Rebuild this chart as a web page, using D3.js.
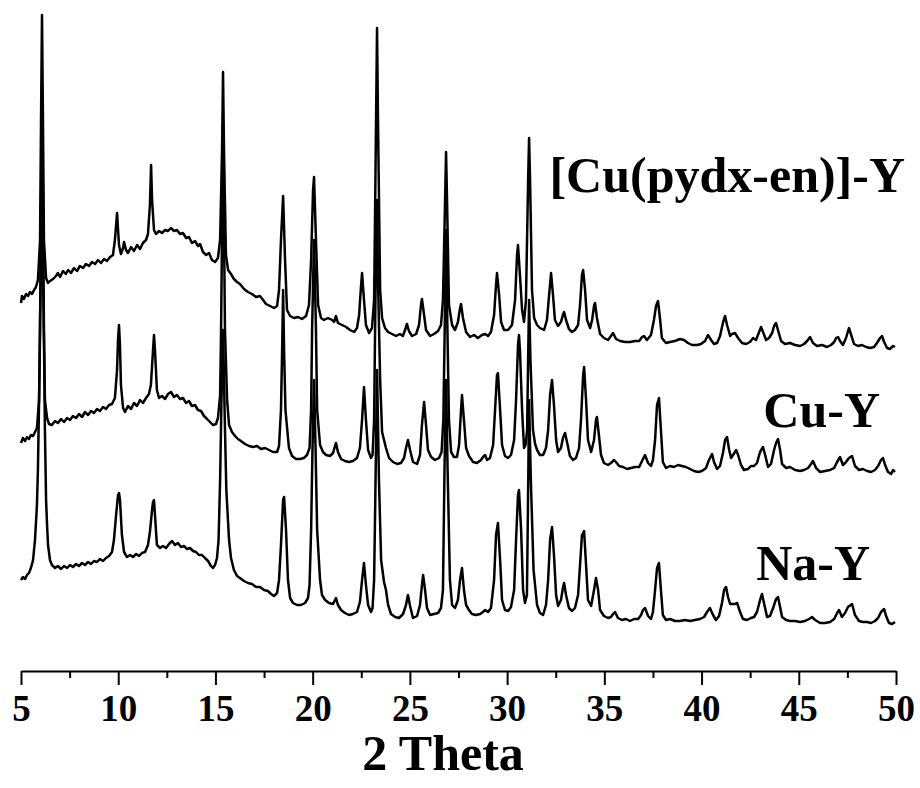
<!DOCTYPE html>
<html>
<head>
<meta charset="utf-8">
<script src="https://cdn.jsdelivr.net/npm/d3@7"></script>
<style>
  body { margin: 0; background: #fff; }
  svg { display: block; }
  text { font-family: "Liberation Serif", "Times New Roman", serif; font-weight: bold; fill: #000; }
</style>
</head>
<body>
<svg id="chart" width="920" height="788"></svg>
<script>
// tick values for the 2 theta axis
var majorTicks = [5, 10, 15, 20, 25, 30, 35, 40, 45, 50];
var minorTicks = [7.5, 12.5, 17.5, 22.5, 27.5, 32.5, 37.5, 42.5, 47.5];

var sampleNames = ["[Cu(pydx-en)]-Y", "Cu-Y", "Na-Y"];

// stacked patterns, [2 theta (deg), intensity (a.u., offsets included)]
var cuPydxY = [[5.00,369],[5.05,376],[5.15,373],[5.26,378],[5.36,376],[5.46,380],[5.57,378],[5.67,382],[5.77,385],[5.87,392],[5.98,432],[6.03,552],[6.08,657],[6.13,552],[6.18,432],[6.29,394],[6.39,389],[6.49,391],[6.65,393],[6.80,396],[6.90,399],[7.01,395],[7.16,401],[7.31,398],[7.42,402],[7.57,399],[7.73,404],[7.88,401],[8.03,406],[8.19,404],[8.34,408],[8.50,406],[8.65,410],[8.81,408],[8.96,412],[9.11,409],[9.27,413],[9.42,411],[9.58,415],[9.73,417],[9.83,432],[9.94,459],[10.04,427],[10.14,418],[10.25,424],[10.30,430],[10.40,422],[10.50,419],[10.66,425],[10.81,421],[10.97,427],[11.12,423],[11.27,429],[11.43,432],[11.53,438],[11.63,467],[11.69,507],[11.74,472],[11.84,442],[11.94,438],[12.10,441],[12.25,439],[12.41,442],[12.56,441],[12.71,444],[12.87,441],[13.02,442],[13.18,438],[13.33,439],[13.49,434],[13.64,435],[13.79,429],[13.95,431],[14.10,426],[14.21,428],[14.36,420],[14.52,417],[14.67,419],[14.82,412],[14.98,410],[15.13,414],[15.24,432],[15.34,522],[15.39,600],[15.44,522],[15.54,417],[15.65,402],[15.80,398],[15.95,393],[16.11,390],[16.26,388],[16.47,383],[16.67,380],[16.88,378],[17.09,375],[17.29,376],[17.45,372],[17.60,368],[17.81,366],[18.01,364],[18.17,366],[18.27,382],[18.37,432],[18.48,476],[18.58,412],[18.68,362],[18.84,356],[19.04,354],[19.25,355],[19.45,353],[19.66,356],[19.81,367],[19.92,412],[20.02,482],[20.07,495],[20.17,432],[20.28,367],[20.43,354],[20.58,352],[20.79,354],[21.00,352],[21.10,350],[21.20,356],[21.30,349],[21.51,347],[21.72,345],[21.92,342],[22.13,340],[22.28,344],[22.39,357],[22.49,387],[22.54,399],[22.64,372],[22.74,347],[22.90,339],[23.05,344],[23.16,372],[23.26,552],[23.31,644],[23.36,552],[23.47,382],[23.57,354],[23.72,344],[23.88,340],[24.08,338],[24.29,336],[24.49,338],[24.64,336],[24.75,342],[24.85,348],[24.95,341],[25.11,336],[25.32,338],[25.47,347],[25.57,367],[25.62,373],[25.73,357],[25.83,342],[26.04,336],[26.24,338],[26.45,341],[26.60,347],[26.70,372],[26.81,472],[26.86,520],[26.91,472],[27.01,367],[27.17,347],[27.32,342],[27.47,350],[27.58,364],[27.63,368],[27.73,354],[27.89,340],[28.09,335],[28.30,337],[28.50,334],[28.71,337],[28.87,338],[29.02,336],[29.17,340],[29.33,357],[29.43,387],[29.48,399],[29.59,377],[29.69,350],[29.84,342],[30.05,342],[30.25,347],[30.41,372],[30.51,417],[30.56,427],[30.66,397],[30.77,362],[30.87,350],[30.97,372],[31.08,492],[31.13,534],[31.18,492],[31.28,382],[31.39,354],[31.54,347],[31.69,344],[31.90,342],[32.05,352],[32.16,377],[32.26,399],[32.36,377],[32.46,352],[32.62,346],[32.77,350],[32.87,357],[32.93,360],[33.03,352],[33.18,343],[33.34,340],[33.49,342],[33.65,347],[33.75,367],[33.85,397],[33.91,402],[34.01,382],[34.11,352],[34.27,344],[34.37,352],[34.47,366],[34.52,369],[34.62,354],[34.78,338],[34.98,334],[35.19,332],[35.34,336],[35.45,339],[35.60,333],[35.81,331],[36.07,330],[36.32,330],[36.58,331],[36.79,331],[36.94,335],[37.04,336],[37.19,332],[37.40,337],[37.55,352],[37.66,366],[37.76,371],[37.86,354],[37.96,334],[38.17,329],[38.38,330],[38.63,331],[38.89,333],[39.10,332],[39.30,329],[39.51,327],[39.77,327],[39.97,328],[40.18,331],[40.33,337],[40.49,332],[40.64,328],[40.80,329],[40.95,336],[41.11,350],[41.21,356],[41.31,347],[41.47,336],[41.57,338],[41.72,339],[41.88,334],[42.08,329],[42.29,328],[42.49,330],[42.65,334],[42.80,332],[42.96,340],[43.06,345],[43.16,340],[43.32,332],[43.47,334],[43.63,339],[43.73,346],[43.83,349],[43.93,342],[44.09,331],[44.29,328],[44.55,329],[44.81,327],[45.07,326],[45.27,328],[45.43,331],[45.58,335],[45.73,329],[45.94,326],[46.20,327],[46.45,325],[46.66,327],[46.82,330],[46.92,334],[47.02,335],[47.12,331],[47.27,327],[47.43,334],[47.58,344],[47.68,338],[47.84,328],[48.05,326],[48.25,327],[48.46,325],[48.66,324],[48.87,325],[49.02,329],[49.18,334],[49.28,336],[49.39,330],[49.54,324],[49.69,323],[49.85,326],[49.95,325]];

var cuY = [[5.00,229],[5.10,234],[5.21,231],[5.31,235],[5.41,233],[5.51,237],[5.62,236],[5.72,240],[5.82,244],[5.93,272],[5.98,342],[6.03,472],[6.08,562],[6.13,472],[6.18,342],[6.23,272],[6.34,254],[6.44,248],[6.59,247],[6.75,251],[6.90,249],[7.06,253],[7.21,250],[7.37,254],[7.52,252],[7.67,256],[7.83,254],[7.98,258],[8.14,255],[8.29,260],[8.45,257],[8.60,261],[8.75,259],[8.91,263],[9.06,261],[9.22,265],[9.37,263],[9.53,267],[9.68,268],[9.83,274],[9.94,302],[9.99,332],[10.04,347],[10.09,327],[10.14,287],[10.25,264],[10.35,260],[10.50,266],[10.66,263],[10.81,269],[10.97,266],[11.12,272],[11.27,269],[11.43,274],[11.58,278],[11.68,287],[11.79,322],[11.84,337],[11.89,322],[11.99,282],[12.10,274],[12.25,276],[12.41,273],[12.56,278],[12.71,280],[12.87,275],[13.02,277],[13.18,273],[13.33,274],[13.49,269],[13.64,271],[13.79,266],[13.95,267],[14.10,262],[14.26,261],[14.41,256],[14.57,253],[14.72,250],[14.87,247],[15.03,248],[15.13,254],[15.24,277],[15.29,342],[15.34,442],[15.39,512],[15.44,442],[15.49,342],[15.60,272],[15.70,247],[15.85,240],[16.01,236],[16.16,233],[16.31,231],[16.52,228],[16.73,226],[16.93,225],[17.14,226],[17.34,223],[17.55,224],[17.76,222],[17.96,220],[18.17,220],[18.27,226],[18.37,262],[18.43,322],[18.48,382],[18.53,322],[18.60,262],[18.78,224],[18.94,216],[19.14,213],[19.35,213],[19.55,214],[19.71,217],[19.84,224],[19.92,262],[19.97,342],[20.07,432],[20.17,342],[20.23,262],[20.38,227],[20.53,220],[20.69,217],[20.89,216],[21.05,219],[21.15,226],[21.20,229],[21.30,220],[21.46,213],[21.66,211],[21.87,210],[22.07,211],[22.28,214],[22.43,224],[22.54,252],[22.64,285],[22.74,252],[22.85,222],[23.00,214],[23.08,217],[23.16,252],[23.21,342],[23.26,422],[23.31,472],[23.36,392],[23.47,292],[23.57,240],[23.67,232],[23.77,224],[23.93,214],[24.13,210],[24.34,208],[24.54,209],[24.70,214],[24.80,224],[24.90,232],[25.01,222],[25.16,210],[25.37,208],[25.52,217],[25.62,247],[25.73,270],[25.83,247],[25.93,222],[26.09,215],[26.29,212],[26.50,214],[26.63,220],[26.72,252],[26.79,342],[26.86,442],[26.93,342],[27.01,252],[27.12,220],[27.27,215],[27.42,215],[27.53,227],[27.63,262],[27.68,277],[27.78,252],[27.89,224],[28.04,216],[28.25,210],[28.45,209],[28.66,212],[28.76,215],[28.87,217],[28.97,212],[29.12,214],[29.28,227],[29.38,262],[29.48,297],[29.53,299],[29.64,262],[29.74,227],[29.89,216],[30.05,214],[30.20,217],[30.36,232],[30.46,272],[30.56,327],[30.61,337],[30.66,322],[30.77,262],[30.87,224],[30.95,227],[31.03,242],[31.08,312],[31.13,372],[31.20,312],[31.33,242],[31.44,228],[31.54,222],[31.69,217],[31.85,217],[32.00,224],[32.11,242],[32.21,277],[32.31,292],[32.41,267],[32.52,232],[32.62,220],[32.77,224],[32.87,234],[32.98,239],[33.08,230],[33.23,216],[33.39,212],[33.54,214],[33.70,224],[33.80,252],[33.91,297],[33.96,305],[34.06,272],[34.16,232],[34.32,220],[34.47,232],[34.57,252],[34.62,255],[34.72,237],[34.83,217],[34.98,209],[35.19,207],[35.34,209],[35.50,212],[35.60,210],[35.76,206],[35.96,205],[36.17,203],[36.37,204],[36.58,205],[36.79,205],[36.94,211],[37.09,217],[37.25,209],[37.40,206],[37.50,212],[37.61,232],[37.71,267],[37.81,274],[37.91,242],[38.01,210],[38.17,204],[38.38,206],[38.58,205],[38.79,207],[38.99,206],[39.20,205],[39.41,203],[39.61,201],[39.82,200],[40.02,201],[40.23,204],[40.38,212],[40.54,218],[40.64,210],[40.80,203],[40.95,206],[41.11,220],[41.21,232],[41.31,235],[41.42,222],[41.52,214],[41.62,217],[41.78,222],[41.88,217],[42.03,207],[42.18,202],[42.39,203],[42.54,206],[42.70,206],[42.85,209],[43.01,220],[43.16,225],[43.27,217],[43.42,205],[43.57,208],[43.73,222],[43.83,229],[43.93,233],[44.04,222],[44.14,208],[44.35,204],[44.55,205],[44.81,202],[45.07,201],[45.27,202],[45.48,204],[45.63,208],[45.73,211],[45.89,204],[46.10,200],[46.35,201],[46.61,202],[46.82,204],[46.97,210],[47.12,215],[47.27,207],[47.43,210],[47.58,214],[47.74,216],[47.89,206],[48.10,202],[48.30,203],[48.51,201],[48.72,200],[48.92,202],[49.08,206],[49.23,212],[49.33,214],[49.44,207],[49.59,200],[49.75,198],[49.85,202],[49.95,200]];

var naY = [[5.00,92],[5.10,95],[5.21,93],[5.31,97],[5.41,99],[5.51,104],[5.62,112],[5.72,132],[5.82,167],[5.87,202],[5.93,272],[5.98,352],[6.03,412],[6.08,432],[6.13,402],[6.18,332],[6.23,242],[6.29,172],[6.34,147],[6.39,127],[6.49,112],[6.59,107],[6.75,104],[6.90,106],[7.06,103],[7.21,106],[7.37,104],[7.52,107],[7.67,105],[7.83,108],[7.98,106],[8.14,109],[8.29,107],[8.45,110],[8.60,108],[8.75,111],[8.91,110],[9.06,113],[9.22,111],[9.37,114],[9.53,116],[9.68,120],[9.78,132],[9.89,157],[9.99,177],[10.04,179],[10.09,172],[10.19,137],[10.30,120],[10.45,115],[10.61,117],[10.76,115],[10.92,118],[11.07,116],[11.22,119],[11.38,120],[11.53,127],[11.63,140],[11.74,162],[11.79,170],[11.84,172],[11.89,157],[11.99,127],[12.15,124],[12.30,126],[12.46,124],[12.61,128],[12.77,131],[12.92,127],[13.07,129],[13.23,125],[13.38,126],[13.54,123],[13.69,124],[13.85,121],[14.00,120],[14.15,117],[14.31,117],[14.46,114],[14.62,111],[14.77,106],[14.87,104],[14.98,107],[15.08,114],[15.16,132],[15.24,192],[15.31,272],[15.39,342],[15.48,252],[15.56,182],[15.70,132],[15.80,114],[15.95,102],[16.11,96],[16.26,94],[16.47,91],[16.67,89],[16.88,88],[17.09,85],[17.29,85],[17.50,82],[17.70,81],[17.86,78],[18.01,76],[18.17,79],[18.27,92],[18.37,127],[18.48,172],[18.53,175],[18.63,142],[18.73,92],[18.84,74],[18.99,69],[19.20,67],[19.40,67],[19.61,69],[19.76,74],[19.84,87],[19.92,142],[19.99,222],[20.07,292],[20.15,222],[20.23,142],[20.38,92],[20.48,77],[20.64,72],[20.84,69],[21.05,68],[21.15,72],[21.20,74],[21.30,67],[21.46,62],[21.66,59],[21.87,57],[22.07,58],[22.28,60],[22.43,70],[22.54,92],[22.64,109],[22.74,87],[22.85,67],[23.00,60],[23.08,64],[23.16,92],[23.22,172],[23.31,302],[23.41,192],[23.52,112],[23.67,90],[23.77,82],[23.88,67],[24.03,58],[24.24,55],[24.44,54],[24.65,58],[24.80,67],[24.90,77],[25.01,66],[25.16,54],[25.37,56],[25.52,67],[25.62,87],[25.68,97],[25.78,82],[25.88,64],[26.04,57],[26.24,58],[26.45,59],[26.60,64],[26.70,82],[26.78,202],[26.86,292],[26.94,202],[27.06,92],[27.17,67],[27.32,64],[27.47,72],[27.58,92],[27.68,104],[27.78,82],[27.89,67],[28.04,62],[28.19,58],[28.40,57],[28.61,58],[28.76,60],[28.87,62],[29.02,60],[29.17,64],[29.33,92],[29.43,137],[29.53,149],[29.64,112],[29.74,72],[29.89,62],[30.05,61],[30.20,65],[30.36,82],[30.46,132],[30.56,177],[30.61,182],[30.72,142],[30.82,82],[30.92,69],[31.02,77],[31.07,162],[31.13,272],[31.22,192],[31.36,102],[31.54,67],[31.69,59],[31.85,57],[32.00,67],[32.11,92],[32.21,132],[32.31,145],[32.41,117],[32.52,77],[32.62,66],[32.77,72],[32.87,84],[32.93,89],[33.03,77],[33.18,64],[33.34,61],[33.49,64],[33.65,77],[33.75,107],[33.85,137],[33.96,141],[34.06,107],[34.16,72],[34.32,66],[34.47,82],[34.57,94],[34.68,82],[34.78,62],[34.98,56],[35.19,54],[35.34,55],[35.45,58],[35.55,60],[35.70,54],[35.91,52],[36.12,53],[36.32,51],[36.53,53],[36.74,53],[36.89,57],[36.99,62],[37.09,64],[37.25,56],[37.40,53],[37.50,60],[37.61,82],[37.71,104],[37.81,109],[37.91,82],[38.01,57],[38.17,52],[38.38,53],[38.63,51],[38.89,51],[39.15,52],[39.41,51],[39.66,52],[39.92,53],[40.13,55],[40.28,60],[40.43,64],[40.59,57],[40.74,52],[40.90,56],[41.05,69],[41.16,82],[41.26,85],[41.36,75],[41.47,68],[41.57,68],[41.72,68],[41.83,69],[41.98,60],[42.13,53],[42.34,52],[42.54,54],[42.70,55],[42.85,60],[43.01,72],[43.11,78],[43.21,69],[43.37,55],[43.52,56],[43.68,64],[43.83,73],[43.93,75],[44.04,65],[44.14,55],[44.35,52],[44.55,51],[44.81,51],[45.07,50],[45.32,51],[45.53,53],[45.68,55],[45.84,52],[46.10,49],[46.35,49],[46.61,50],[46.82,53],[46.97,59],[47.07,62],[47.22,55],[47.38,59],[47.53,65],[47.74,68],[47.89,57],[48.10,51],[48.30,50],[48.51,50],[48.72,49],[48.92,51],[49.08,54],[49.23,60],[49.39,63],[49.49,56],[49.64,49],[49.80,48],[49.95,50]];

var patterns = [cuPydxY, cuY, naY];

var svg = d3.select("#chart");

// 2 theta scale and intensity scale
var x = d3.scaleLinear().domain([5, 50]).range([21, 896]);
var y = d3.scaleLinear().domain([0, 672]).range([672, 0]);

var line = d3.line()
    .x(function(d) { return x(d[0]); })
    .y(function(d) { return y(d[1]); });

svg.append("g").attr("class", "traces")
  .selectAll("path")
  .data(patterns)
  .enter().append("path")
    .attr("d", line)
    .attr("fill", "none")
    .attr("stroke", "#000")
    .attr("stroke-width", 2.5)
    .attr("stroke-linejoin", "round");

// sample names, right aligned next to each pattern
var labelPos = [[905, 192], [880, 427], [870, 580]];
svg.append("g").attr("class", "names")
  .selectAll("text")
  .data(sampleNames)
  .enter().append("text")
    .attr("x", function(d, i) { return labelPos[i][0]; })
    .attr("y", function(d, i) { return labelPos[i][1]; })
    .attr("text-anchor", "end")
    .style("font-size", "50px")
    .text(function(d) { return d; });

// bottom axis: minor ticks first, then major ticks with labels
var axisY = 671;
var minor = svg.append("g")
    .attr("transform", "translate(0," + axisY + ")")
    .call(d3.axisBottom(x).tickValues(minorTicks).tickSize(7).tickSizeOuter(0).tickFormat(""));
minor.select(".domain").remove();

var major = svg.append("g")
    .attr("transform", "translate(0," + axisY + ")")
    .call(d3.axisBottom(x).tickValues(majorTicks).tickSize(14).tickSizeOuter(0).tickFormat(d3.format("d")));

svg.selectAll(".tick line").attr("stroke", "#000").attr("stroke-width", 2);
major.select(".domain").attr("stroke", "#000").attr("stroke-width", 2);
major.selectAll(".tick text")
    .attr("y", 50)
    .attr("dy", 0)
    .style("font-family", "'Liberation Serif', 'Times New Roman', serif")
    .style("font-weight", "bold")
    .style("font-size", "37px");

svg.append("text")
    .attr("x", 443)
    .attr("y", 770)
    .attr("text-anchor", "middle")
    .style("font-size", "50px")
    .text("2 Theta");
</script>
</body>
</html>
